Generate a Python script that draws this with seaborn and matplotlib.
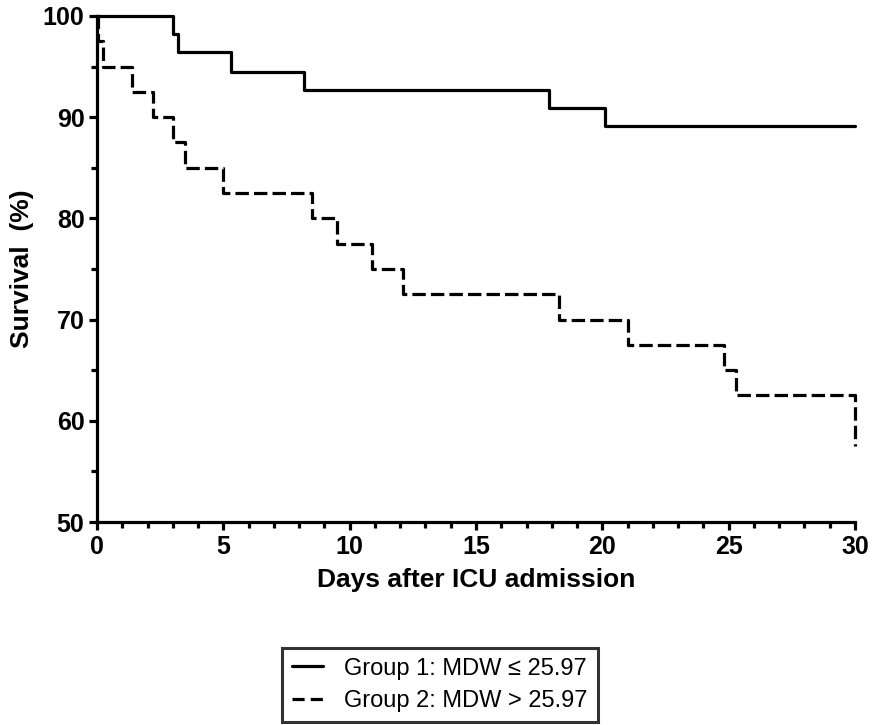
import matplotlib
matplotlib.use("Agg")
import matplotlib.pyplot as plt
import seaborn as sns
import pandas as pd
from matplotlib.lines import Line2D
from matplotlib.ticker import MultipleLocator

sns.set_theme(style="ticks")
plt.rcParams['font.family'] = ['Liberation Sans', 'DejaVu Sans']
plt.rcParams['text.color'] = 'black'
plt.rcParams['axes.labelcolor'] = 'black'
plt.rcParams['xtick.color'] = 'black'
plt.rcParams['ytick.color'] = 'black'

# Data
g1_days = [0, 3.0, 3.2, 5.3, 8.2, 17.9, 20.1, 30]
g1_surv = [100, 98.2, 96.4, 94.5, 92.7, 90.9, 89.1, 89.1]
g2_days = [0, 0.05, 0.25, 1.4, 2.2, 3.0, 3.5, 5.0, 8.5, 9.5, 10.9, 12.1, 18.3, 21.0, 24.8, 25.3, 29.99, 30]
g2_surv = [100, 97.5, 95, 92.5, 90, 87.5, 85, 82.5, 80, 77.5, 75, 72.5, 70, 67.5, 65, 62.5, 60, 57.5]
labels = ["Group 1: MDW \u2264 25.97", "Group 2: MDW > 25.97"]

df = pd.concat([
    pd.DataFrame({"days": g1_days, "surv": g1_surv, "group": labels[0]}),
    pd.DataFrame({"days": g2_days, "surv": g2_surv, "group": labels[1]}),
])

fig = plt.figure(figsize=(8.73, 7.25), dpi=100)
ax = fig.add_axes([97/873, 1-522/725, (855-97)/873, (522-16)/725])

lw = 2.3
sns.lineplot(data=df[df.group == labels[0]], x="days", y="surv", ax=ax,
             drawstyle="steps-post", color="black", lw=lw, legend=False, estimator=None)
sns.lineplot(data=df[df.group == labels[1]], x="days", y="surv", ax=ax,
             drawstyle="steps-post", color="black", lw=lw, legend=False, estimator=None,
             dashes=False)
ax.lines[1].set_dashes([4.2, 1.6])
ax.lines[1].set_dash_capstyle("butt")

ax.set_xlim(0, 30)
ax.set_ylim(50, 100)
ax.xaxis.set_major_locator(MultipleLocator(5))
ax.xaxis.set_minor_locator(MultipleLocator(1))
ax.yaxis.set_major_locator(MultipleLocator(10))
ax.yaxis.set_minor_locator(MultipleLocator(5))
sns.despine(ax=ax)
for s in ["left", "bottom"]:
    ax.spines[s].set_linewidth(2.3)
    ax.spines[s].set_color("black")
ax.tick_params(which="major", length=6, width=2.3, colors="black", labelsize=18, pad=3)
ax.tick_params(which="minor", length=4, width=2.3, colors="black")
for t in ax.get_xticklabels() + ax.get_yticklabels():
    t.set_fontweight("bold")
ax.set_xlabel("Days after ICU admission", fontsize=19, fontweight="bold", labelpad=7)
ax.set_ylabel("Survival  (%)", fontsize=19, fontweight="bold", labelpad=6)
for l in ax.lines:
    l.set_clip_on(False)

handles = [Line2D([], [], color="black", lw=lw),
           Line2D([], [], color="black", lw=lw, dashes=[3.8, 1.9])]
leg = fig.legend(handles, labels, loc="center", bbox_to_anchor=(440/873, 1-685/725),
                 frameon=True, fancybox=False, fontsize=17, handlelength=1.3,
                 handletextpad=0.9, borderpad=0.42, labelspacing=0.45,
                 borderaxespad=0)
leg.get_frame().set_edgecolor("black")
leg.get_frame().set_linewidth(2.2)

fig.savefig("out.png", dpi=100)
